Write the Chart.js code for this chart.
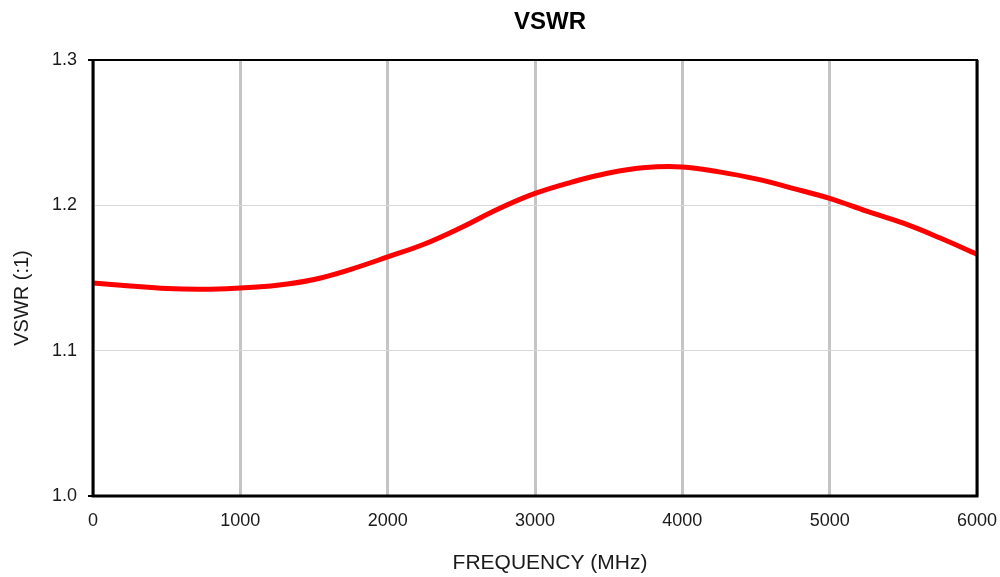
<!DOCTYPE html>
<html>
<head>
<meta charset="utf-8">
<script src="https://cdn.jsdelivr.net/npm/chart.js@4.4.0/dist/chart.umd.min.js"></script>
<style>
  html, body { margin: 0; padding: 0; background: #fff; }
  #wrap { width: 1000px; height: 577px; }
</style>
</head>
<body>
<div id="wrap"><canvas id="vswrChart"></canvas></div>
<script>
// data (MHz / VSWR)
const freq = [0, 250, 500, 750, 1000, 1250, 1500, 1750, 2000, 2250, 2500, 2750,
              3000, 3250, 3500, 3750, 4000, 4250, 4500, 4750, 5000, 5250, 5500, 5750, 6000];
const vswr = [1.1466, 1.1445, 1.1427, 1.1422, 1.1432, 1.1450, 1.1490, 1.1560, 1.1645,
              1.1734, 1.1848, 1.1975, 1.2082, 1.2160, 1.2222, 1.2260, 1.2264, 1.2230,
              1.2182, 1.2117, 1.2048, 1.1960, 1.1877, 1.1775, 1.1663];
const xTicks = [0, 1000, 2000, 3000, 4000, 5000, 6000];
const yTicks = [1.0, 1.1, 1.2, 1.3];

const FONT = 'Liberation Sans, Arial, Helvetica, sans-serif';

// frame + titles
const framePlugin = {
    id: 'frame',
    afterDatasetsDraw(chart) {
        const { ctx, chartArea: a } = chart;
        ctx.save();
        ctx.strokeStyle = '#000';
        ctx.lineWidth = 3;
        ctx.beginPath();
        ctx.moveTo(a.left, a.top);
        ctx.lineTo(a.left, a.bottom);
        ctx.lineTo(a.right, a.bottom);
        ctx.lineTo(a.right, a.top);
        ctx.stroke();
        ctx.lineWidth = 2;
        ctx.beginPath();
        ctx.moveTo(a.left - 5, a.top);
        ctx.lineTo(a.right + 1, a.top);
        ctx.stroke();
        ctx.beginPath();
        ctx.moveTo(a.left - 5, a.bottom);
        ctx.lineTo(a.left, a.bottom);
        ctx.stroke();
        ctx.restore();
    },
    afterDraw(chart) {
        const ctx = chart.ctx;
        ctx.save();
        ctx.fillStyle = '#000';
        ctx.textAlign = 'center';
        ctx.textBaseline = 'middle';
        ctx.font = 'bold 24px ' + FONT;
        ctx.fillText('VSWR', 550, 22);
        ctx.fillStyle = '#1a1a1a';
        ctx.font = '21px ' + FONT;
        ctx.fillText('FREQUENCY (MHz)', 550, 563);
        ctx.translate(22, 298);
        ctx.rotate(-Math.PI / 2);
        ctx.font = '20px ' + FONT;
        ctx.fillText('VSWR (:1)', 0, 0);
        ctx.restore();
    }
};

new Chart(document.getElementById('vswrChart'), {
    type: 'line',
    data: {
        datasets: [{
            data: freq.map((f, i) => ({ x: f, y: vswr[i] })),
            borderColor: '#ff0000',
            borderWidth: 5,
            pointRadius: 0,
            tension: 0.4,
            fill: false
        }]
    },
    plugins: [framePlugin],
    options: {
        responsive: true,
        maintainAspectRatio: false,
        animation: false,
        layout: { padding: { top: 60, right: 23, left: 0, bottom: 0 } },
        scales: {
            x: {
                type: 'linear',
                min: 0,
                max: 6000,
                afterBuildTicks: (s) => { s.ticks = xTicks.map(v => ({ value: v })); },
                afterFit: (s) => { s.height = 81; s.paddingLeft = 0; s.paddingRight = 0; },
                ticks: {
                    padding: 14,
                    color: '#1a1a1a',
                    font: { family: FONT, size: 18 },
                    maxRotation: 0,
                    callback: (v) => String(v)
                },
                grid: { color: '#c4c4c4', lineWidth: 3, drawTicks: false },
                border: { display: false }
            },
            y: {
                min: 1.0,
                max: 1.3,
                afterBuildTicks: (s) => { s.ticks = yTicks.map(v => ({ value: v })); },
                afterFit: (s) => { s.width = 93; s.paddingTop = 0; s.paddingBottom = 0; },
                ticks: {
                    padding: 16,
                    color: '#1a1a1a',
                    font: { family: FONT, size: 18 },
                    callback: (v) => Number(v).toFixed(1)
                },
                grid: { color: '#d9d9d9', lineWidth: 1, drawTicks: false },
                border: { display: false }
            }
        },
        plugins: {
            legend: { display: false },
            title: { display: false },
            tooltip: { enabled: false }
        }
    }
});
</script>
</body>
</html>
